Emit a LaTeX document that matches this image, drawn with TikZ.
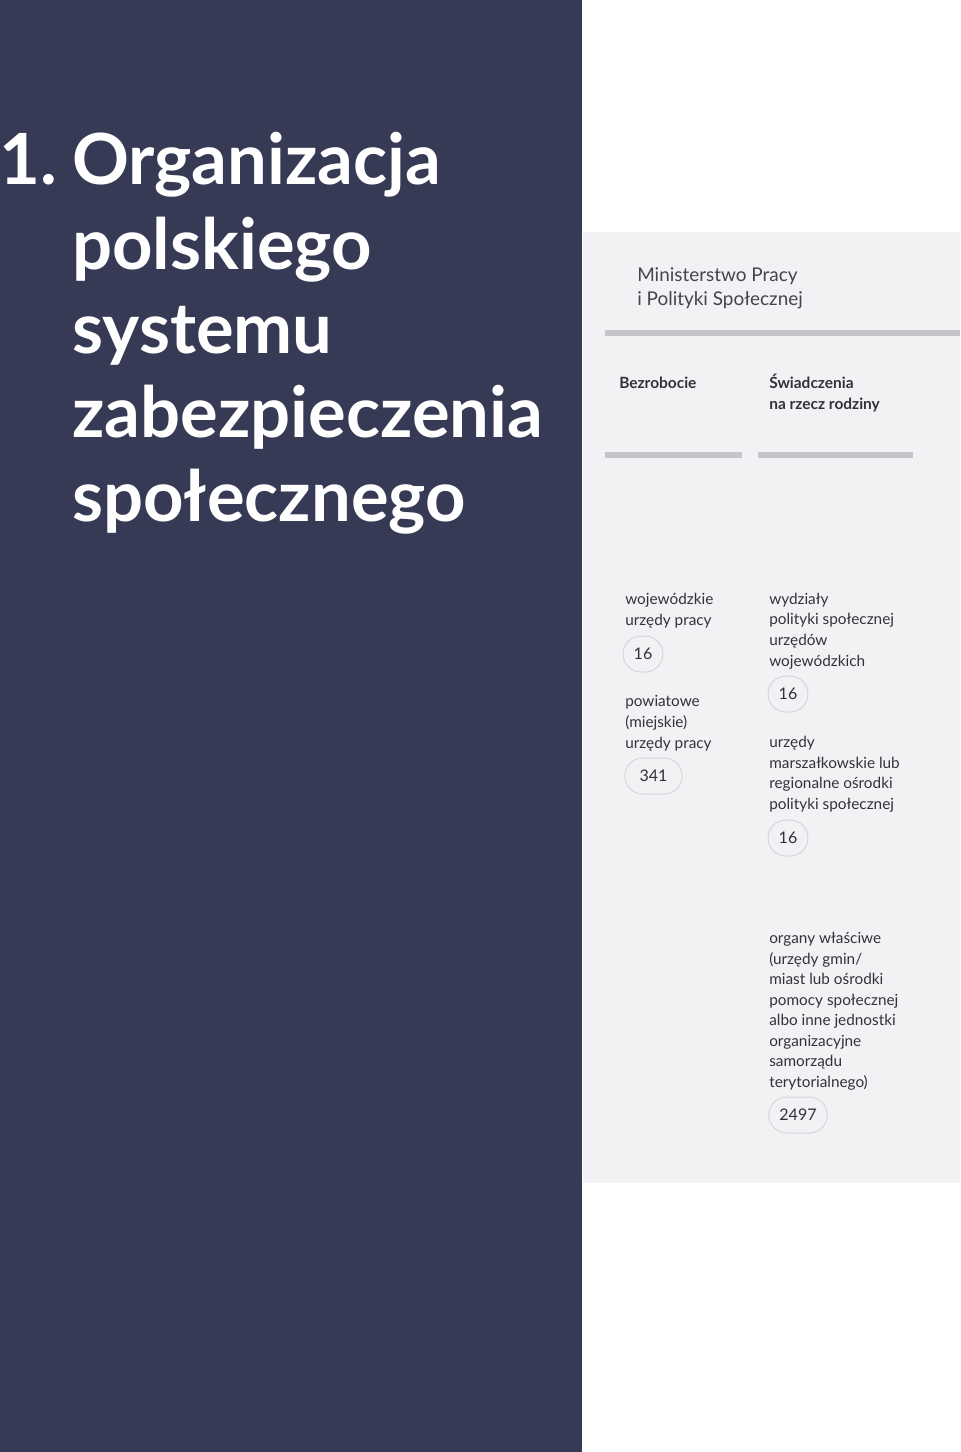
\documentclass[tikz,border=0pt]{standalone}
\usepackage{fontspec}
\setmainfont{Lato}
\definecolor{darkpanel}{RGB}{54,58,84}
\definecolor{lightpanel}{RGB}{242,242,244}
\definecolor{barcol}{RGB}{196,196,202}
\definecolor{txt}{RGB}{50,50,56}
\definecolor{txtlight}{RGB}{68,68,78}
\definecolor{pillborder}{RGB}{214,214,218}
\begin{document}
\begin{tikzpicture}[x=0.75pt,y=-0.75pt,
  title/.style={anchor=base west,inner sep=0pt,text=white,align=left,
    font=\fontsize{52.9}{63}\bfseries\selectfont},
  ministry/.style={anchor=base west,inner sep=0pt,text=txtlight,align=left,
    font=\fontsize{14.2}{17.4}\selectfont},
  header/.style={anchor=base west,inner sep=0pt,text=txt,align=left,
    font=\fontsize{11.6}{15.6}\bfseries\selectfont},
  body/.style={anchor=base west,inner sep=0pt,text=txt,align=left,
    font=\fontsize{11.5}{15.4}\selectfont},
  pill/.style={draw=pillborder,line width=0.75pt,fill=lightpanel,text=txt,
    minimum height=27pt,minimum width=27pt,inner xsep=8pt,inner ysep=0pt,
    rounded corners=13.5pt,font=\fontsize{12}{14}\selectfont},
  bar/.style={fill=barcol,draw=none}]
\useasboundingbox (0,0) rectangle (960,1452);
\fill[white] (0,0) rectangle (960,1452);
\fill[darkpanel] (0,0) rectangle (582,1452);
\fill[lightpanel] (583,232) rectangle (960,1183);
% title
\node[title] (num) at (-1,185) {1.};
\node[title] (t1) at (72,185) {Organizacja};
\node[title] (t2) at (72,269) {polskiego};
\node[title] (t3) at (72,353) {systemu};
\node[title] (t4) at (72,437) {zabezpieczenia};
\node[title] (t5) at (72,521) {społecznego};
% ministry (anchor = baseline of last line)
\node[ministry] (min) at (637,305) {Ministerstwo Pracy\\i Polityki Społecznej};
\fill[bar] (605,330) rectangle (960,336);
% headers
\node[header] (bez) at (619,388) {Bezrobocie};
\node[header] (swi) at (769,409) {Świadczenia\\na rzecz rodziny};
\fill[bar] (605,452) rectangle (742,458);
\fill[bar] (758,452) rectangle (913,458);
% left column
\node[body] (wup) at (625,625) {wojewódzkie\\urzędy pracy};
\node[pill] (p1) at (643,654) {16};
\node[body] (pup) at (625,748) {powiatowe\\(miejskie)\\urzędy pracy};
\node[pill,minimum width=43pt] (p2) at (653.5,776) {341};
% right column
\node[body] (wps) at (769,666) {wydziały\\polityki społecznej\\urzędów\\wojewódzkich};
\node[pill] (p3) at (788,694) {16};
\node[body] (um) at (769,809.5) {urzędy\\marszałkowskie lub\\regionalne ośrodki\\polityki społecznej};
\node[pill] (p4) at (788,838) {16};
\node[body] (ow) at (769,1087.5) {organy właściwe\\(urzędy gmin/\\miast lub ośrodki\\pomocy społecznej\\albo inne jednostki\\organizacyjne\\samorządu\\terytorialnego)};
\node[pill] (p5) at (798,1115) {2497};
\end{tikzpicture}
\end{document}
